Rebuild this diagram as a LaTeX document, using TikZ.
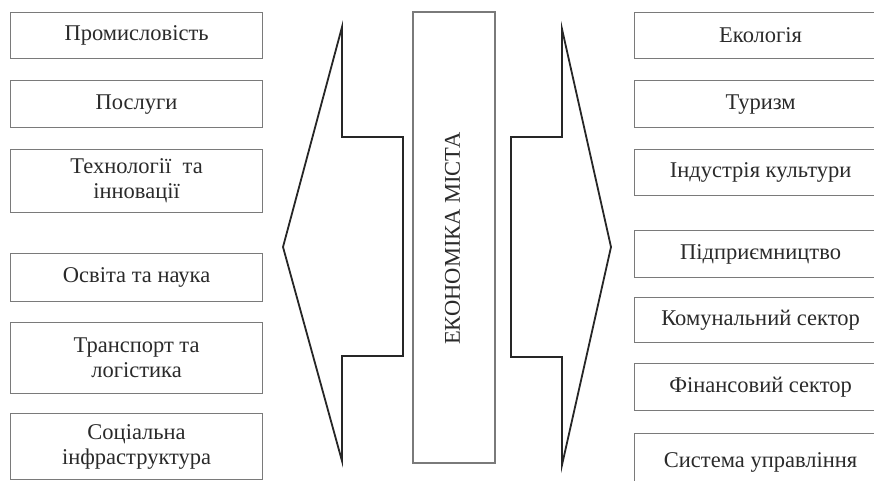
\documentclass[tikz,border=0pt]{standalone}
\usepackage{fontspec}
\setmainfont{Liberation Serif}
\definecolor{boxgray}{HTML}{7A7A7A}
\definecolor{textgray}{HTML}{2A2A2A}
\begin{document}
\begin{tikzpicture}[x=1pt,y=-1pt,
  box/.style={draw=boxgray, line width=1.2pt, minimum width=252pt, inner sep=0pt,
    align=center, font=\fontsize{22.5}{25}\selectfont, text=textgray, anchor=north west},
  arrowshape/.style={draw=black!85, line width=1.8pt, line join=miter}]
\useasboundingbox (0,0) rectangle (874,480);
\clip (0,0) rectangle (874,480);
% left boxes
\node[box, minimum height=46pt] (l1) at (10,12) {Промисловість};
\node[box, minimum height=47pt] (l2) at (10,80) {Послуги};
\node[box, minimum height=63pt] (l3) at (10,149) {Технології\ \ та\\інновації};
\node[box, minimum height=48pt] (l4) at (10,253) {Освіта та наука};
\node[box, minimum height=71pt] (l5) at (10,322) {Транспорт та\\логістика};
\node[box, minimum height=66pt] (l6) at (10,413) {Соціальна\\інфраструктура};
% right boxes
\node[box, minimum height=46pt] (r1) at (634,12) {Екологія};
\node[box, minimum height=47pt] (r2) at (634,80) {Туризм};
\node[box, minimum height=46pt] (r3) at (634,149) {Індустрія культури};
\node[box, minimum height=47pt] (r4) at (634,230) {Підприємництво};
\node[box, minimum height=45pt] (r5) at (634,297) {Комунальний сектор};
\node[box, minimum height=47pt] (r6) at (634,363) {Фінансовий сектор};
\node[box, minimum height=57pt] (r7) at (634,433) {Система управління};
% centre
\node[draw=boxgray, line width=1.2pt, rotate=90, minimum width=451pt, minimum height=82pt,
  inner sep=0pt, font=\fontsize{22.5}{25}\selectfont, text=textgray] (eco) at (454,237.5) {};
\node[rotate=90, inner sep=0pt, font=\fontsize{22.5}{25}\selectfont, text=textgray] (ecotext) at (452.5,238.5) {ЕКОНОМІКА МІСТА};
% arrows
\draw[arrowshape] (342,27) -- (342,137) -- (403,137) -- (403,356) -- (342,356) -- (342,461) -- (283,247) -- cycle;
\draw[arrowshape] (562,29) -- (562,137) -- (511,137) -- (511,357) -- (562,357) -- (562,465) -- (611,247) -- cycle;
\end{tikzpicture}
\end{document}
